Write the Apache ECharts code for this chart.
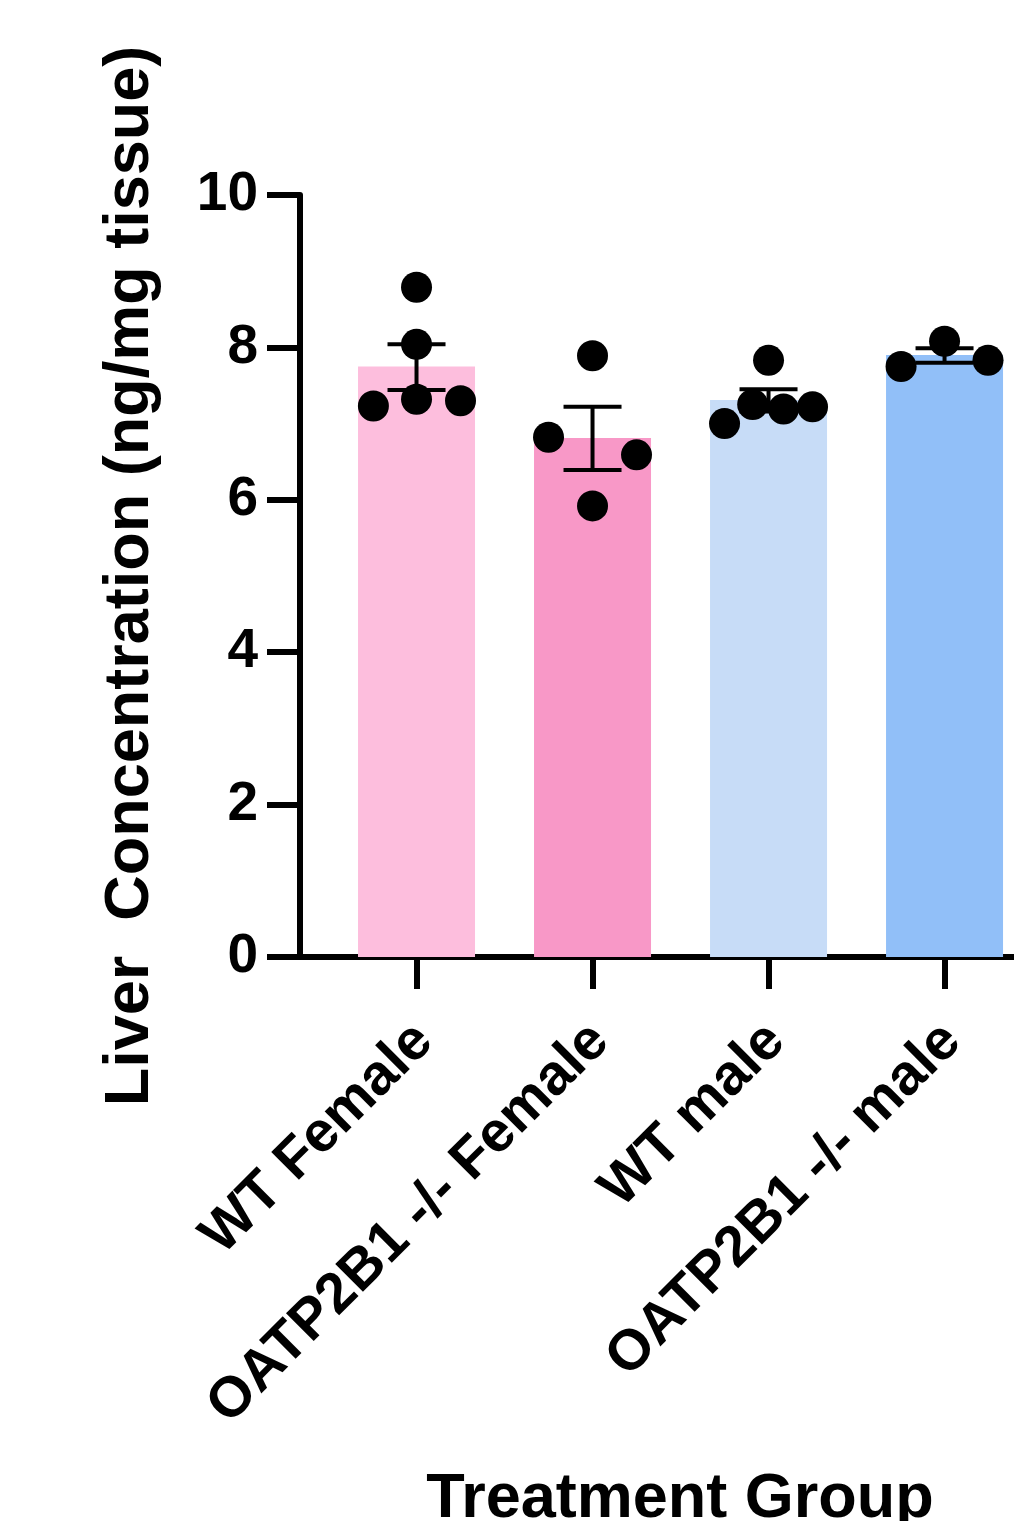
<!DOCTYPE html>
<html>
<head>
<meta charset="utf-8">
<script src="https://cdn.jsdelivr.net/npm/echarts@6/dist/echarts.min.js"></script>
<style>
html,body{margin:0;padding:0;background:#fff;}
#chart{width:1014px;height:1521px;}
</style>
</head>
<body>
<div id="chart"></div>
<script>
// ---- data ----
var categories = ['WT Female', 'OATP2B1 -/- Female', 'WT male', 'OATP2B1 -/- male'];
var means = [7.75, 6.81, 7.31, 7.90];
var errLow = [7.44, 6.39, 7.16, 7.80];
var errHigh = [8.04, 7.22, 7.45, 7.99];
var pointsWTF = [8.79, 8.04, 7.23, 7.32, 7.30];
var pointsKOF = [7.89, 6.82, 6.59, 5.92];
var pointsWTM = [7.83, 7.00, 7.25, 7.19, 7.22];
var pointsKOM = [7.75, 8.08, 7.83];
var yTicks = [0, 2, 4, 6, 8, 10];
// horizontal spread of dots within each group (in category widths)
var spreadWTF = [0, 0, -0.245, 0, 0.25];
var spreadKOF = [0, -0.25, 0.25, 0];
var spreadWTM = [0, -0.25, -0.09, 0.085, 0.25];
var spreadKOM = [-0.247, 0, 0.247];

var barColors = ['#FDBEDD', '#F898C7', '#C7DCF7', '#91BFF8'];
var FONT = "'Liberation Sans', Arial, sans-serif";

var groups = [pointsWTF, pointsKOF, pointsWTM, pointsKOM];
var spreads = [spreadWTF, spreadKOF, spreadWTM, spreadKOM];
var dotData = [];
groups.forEach(function (g, i) {
  g.forEach(function (v, j) { dotData.push([i + spreads[i][j], v]); });
});
var barData = means.map(function (m, i) {
  return { value: [i, m], itemStyle: { color: barColors[i] } };
});
var errData = means.map(function (m, i) { return [i, errLow[i], errHigh[i]]; });

var chart = echarts.init(document.getElementById('chart'), null, { renderer: 'canvas' });
chart.setOption({
  animation: false,
  backgroundColor: '#fff',
  grid: { left: 300, width: 760, top: 195, height: 762, containLabel: false, outerBoundsMode: 'none' },
  xAxis: {
    type: 'value',
    min: -0.662,
    max: 3.656,
    splitLine: { show: false },
    axisLine: { show: true, onZero: false, lineStyle: { color: '#000', width: 6 } },
    axisTick: { show: true, length: 32, lineStyle: { color: '#000', width: 6 }, customValues: [0, 1, 2, 3] },
    axisLabel: {
      customValues: [0, 1, 2, 3],
      rotate: 45,
      margin: 68,
      verticalAlign: 'top',
      lineHeight: 21,
      fontFamily: FONT, fontWeight: 'bold', fontSize: 57, color: '#000',
      formatter: function (v) { return categories[Math.round(v)]; }
    },
    name: 'Treatment Group',
    nameLocation: 'middle',
    nameGap: 511,
    nameTextStyle: { fontFamily: FONT, fontWeight: 'bold', fontSize: 63, color: '#000' }
  },
  yAxis: {
    type: 'value',
    min: 0, max: 10, interval: 2,
    splitLine: { show: false },
    axisLine: { show: true, onZero: false, lineStyle: { color: '#000', width: 6 } },
    axisTick: { show: true, length: 33, lineStyle: { color: '#000', width: 6 } },
    axisLabel: {
      margin: 42,
      fontFamily: FONT, fontWeight: 'bold', fontSize: 55, color: '#000',
      formatter: function (v) { return yTicks.indexOf(v) >= 0 ? String(v) : ''; }
    },
    name: 'Liver  Concentration (ng/mg tissue)',
    nameLocation: 'middle',
    nameGap: 138,
    nameTextStyle: { fontFamily: FONT, fontWeight: 'bold', fontSize: 63, color: '#000' }
  },
  series: [
    {
      type: 'bar',
      data: barData,
      barWidth: 117,
      z: 1
    },
    {
      type: 'custom',
      data: errData,
      z: 3,
      renderItem: function (params, api) {
        var x = api.value(0);
        var lo = api.coord([x, api.value(1)]);
        var hi = api.coord([x, api.value(2)]);
        var half = 29;
        var st = { stroke: '#000', lineWidth: 4 };
        return {
          type: 'group',
          children: [
            { type: 'line', shape: { x1: lo[0], y1: lo[1], x2: hi[0], y2: hi[1] }, style: st },
            { type: 'line', shape: { x1: hi[0] - half, y1: hi[1], x2: hi[0] + half, y2: hi[1] }, style: st },
            { type: 'line', shape: { x1: lo[0] - half, y1: lo[1], x2: lo[0] + half, y2: lo[1] }, style: st }
          ]
        };
      }
    },
    {
      type: 'scatter',
      data: dotData,
      symbol: 'circle',
      symbolSize: 31,
      itemStyle: { color: '#000', opacity: 1 },
      z: 4
    }
  ]
});
</script>
</body>
</html>
